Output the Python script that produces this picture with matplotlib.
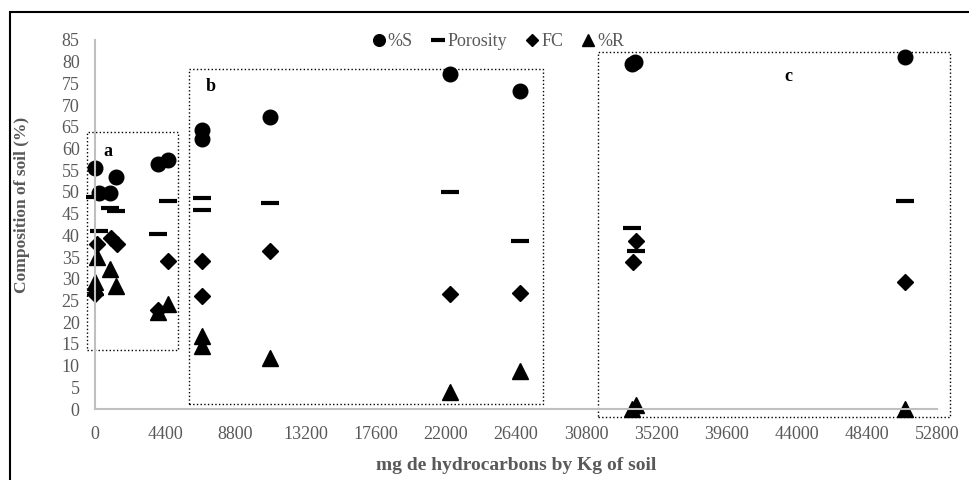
import matplotlib
matplotlib.use("Agg")
import matplotlib.pyplot as plt
from matplotlib.patches import Rectangle

plt.rcParams['font.family'] = ['Liberation Serif', 'DejaVu Serif']

GREY = '#595959'
AXIS = '#bfbfbf'

# mg of hydrocarbons per kg of soil, one list per series
s_x = [0, 250, 940, 1317, 3950, 4577, 6709, 6709, 10972, 22257, 26646, 33670, 33860, 50790]
s_y = [55.5, 49.7, 49.7, 53.5, 56.5, 57.4, 64.3, 62.2, 67.3, 77.2, 73.3, 79.5, 80.0, 81.1]

por_x = [0, 250, 940, 1317, 3950, 4577, 6709, 6709, 10972, 22257, 26646, 33670, 33920, 50790]
por_y = [48.8, 41.1, 46.2, 45.5, 40.2, 48.0, 48.7, 45.9, 47.5, 50.1, 38.6, 41.8, 36.3, 48.0]

fc_x = [150, 1000, 1400, 0, 3950, 4577, 6709, 6709, 10972, 22257, 26646, 33920, 33730, 50790]
fc_y = [37.9, 39.4, 37.9, 26.5, 22.7, 34.2, 34.2, 26.0, 36.5, 26.4, 26.8, 38.8, 33.8, 29.2]

r_x = [150, 0, 0, 940, 1317, 3950, 4577, 6709, 6709, 10972, 22257, 26646, 33670, 33920, 50790]
r_y = [35.0, 29.2, 28.0, 32.2, 28.3, 22.3, 24.3, 16.8, 14.5, 11.7, 3.9, 8.7, 0.0, 0.9, 0.0]

# groups a, b, c: (x0, x1, y0, y1) and label position
groups = ['a', 'b', 'c']
group_boxes = [(-500, 5200, 13.6, 63.9), (5894, 28090, 1.1, 78.3), (31540, 53610, -1.8, 82.2)]
group_labels = [(800, 59.3), (7273, 74.2), (43450, 76.5)]

fig = plt.figure(figsize=(9.69, 4.8), dpi=100)
ax = fig.add_axes([95 / 969, 1 - 409 / 480, 842 / 969, 369 / 480])

ax.plot(s_x, s_y, 'o', color='black', markersize=10.5, label='%S', clip_on=False)
ax.plot(por_x, por_y, '_', color='black', markersize=13, mew=3, label='Porosity', clip_on=False)
ax.plot(fc_x, fc_y, 'D', color='black', markersize=8, label='FC', clip_on=False)
ax.plot(r_x, r_y, '^', color='black', markersize=11, label='%R', clip_on=False)

for g, (x0, x1, y0, y1), (lx, ly) in zip(groups, group_boxes, group_labels):
    ax.add_patch(Rectangle((x0, y0), x1 - x0, y1 - y0, fill=False, ls=':', lw=1,
                           ec='black', clip_on=False, zorder=1))
    ax.text(lx, ly, g, fontsize=13, fontweight='bold', ha='center', va='center')

ax.set_xlim(0, 52800)
ax.set_ylim(0, 85)
ax.set_xticks(range(0, 52801, 4400))
ax.set_yticks(range(0, 86, 5))
ax.tick_params(length=0, labelsize=13, colors=GREY)
ax.tick_params(axis='x', pad=12)
ax.tick_params(axis='y', pad=11)
for side in ['top', 'right']:
    ax.spines[side].set_visible(False)
for side in ['left', 'bottom']:
    ax.spines[side].set_color(AXIS)
    ax.spines[side].set_linewidth(1.5)

fig.text(516 / 969, 1 - 465 / 480, 'mg de hydrocarbons by Kg of soil', fontsize=14,
         fontweight='bold', color=GREY, ha='center', va='center')
fig.text(22 / 969, 1 - 205 / 480, 'Composition of soil (%)', fontsize=12.5,
         fontweight='bold', color=GREY, ha='center', va='center', rotation=90)

leg = fig.legend(loc='center', bbox_to_anchor=(498 / 969, 1 - 42 / 480), ncol=4, frameon=False,
                 fontsize=13, handlelength=0.8, handletextpad=0.1, columnspacing=1.0,
                 markerscale=0.8)
for t in leg.get_texts():
    t.set_color(GREY)

# outer frame (only left and top edges fall inside the picture)
fig.patches.append(Rectangle((10 / 969, -0.1), 2, 1.1 - 12 / 480, fill=False, lw=1.5,
                             ec='black', transform=fig.transFigure, figure=fig))

fig.savefig('out.png', dpi=100)
